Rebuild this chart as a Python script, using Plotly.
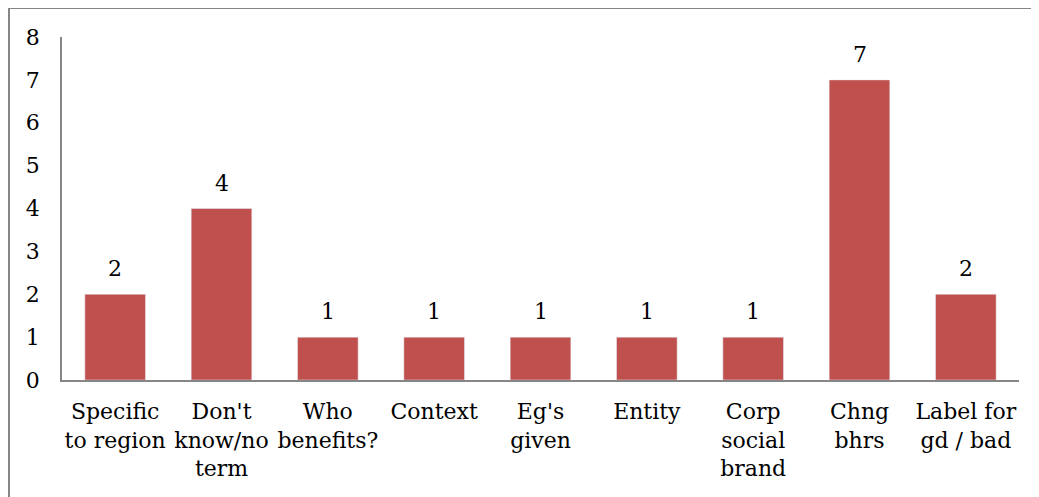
import plotly.graph_objects as go

categories = [
    "Specific<br>to region",
    "Don't<br>know/no<br>term",
    "Who<br>benefits?",
    "Context",
    "Eg's<br>given",
    "Entity",
    "Corp<br>social<br>brand",
    "Chng<br>bhrs",
    "Label for<br>gd / bad",
]
counts = [2, 4, 1, 1, 1, 1, 1, 7, 2]
y_ticks = [0, 1, 2, 3, 4, 5, 6, 7, 8]

W, H = 1031, 489
L, R, T, B = 54, 20, 29, 117
pw, ph = W - L - R, H - T - B

fig = go.Figure(
    data=[
        go.Bar(
            x=categories,
            y=counts,
            marker_color="#C0504D",
            width=0.57,
        )
    ]
)

# value labels above the bars
for cat, val in zip(categories, counts):
    fig.add_annotation(
        x=cat, y=val, text=str(val), showarrow=False,
        yanchor="bottom", yshift=11, font=dict(size=22, color="black"),
    )

axis_grey = "#868686"
fig.update_layout(
    width=W,
    height=H,
    font=dict(family="DejaVu Serif", size=22, color="black"),
    plot_bgcolor="white",
    paper_bgcolor="white",
    showlegend=False,
    margin=dict(l=L, r=R, t=T, b=B),
    xaxis=dict(
        showline=True,
        linecolor=axis_grey,
        linewidth=1.5,
        ticks="",
        tickangle=0,
        showgrid=False,
        automargin=False,
        ticklabelstandoff=11,
    ),
    yaxis=dict(
        range=[0, 8],
        tickvals=y_ticks,
        showline=True,
        linecolor=axis_grey,
        linewidth=1.5,
        ticks="",
        showgrid=False,
        zeroline=False,
        automargin=False,
        ticklabelstandoff=16,
    ),
    shapes=[
        # chart border (only top and left show in the crop)
        dict(type="line", xref="paper", yref="paper", x0=-(L - 1) / pw, x1=1 + R / pw,
             y0=1 + T / ph, y1=1 + T / ph, line=dict(color=axis_grey, width=2)),
        dict(type="line", xref="paper", yref="paper", x0=-(L - 1) / pw, x1=-(L - 1) / pw,
             y0=1 + T / ph, y1=-B / ph, line=dict(color=axis_grey, width=2)),
    ],
)

fig.write_html("out.html")
